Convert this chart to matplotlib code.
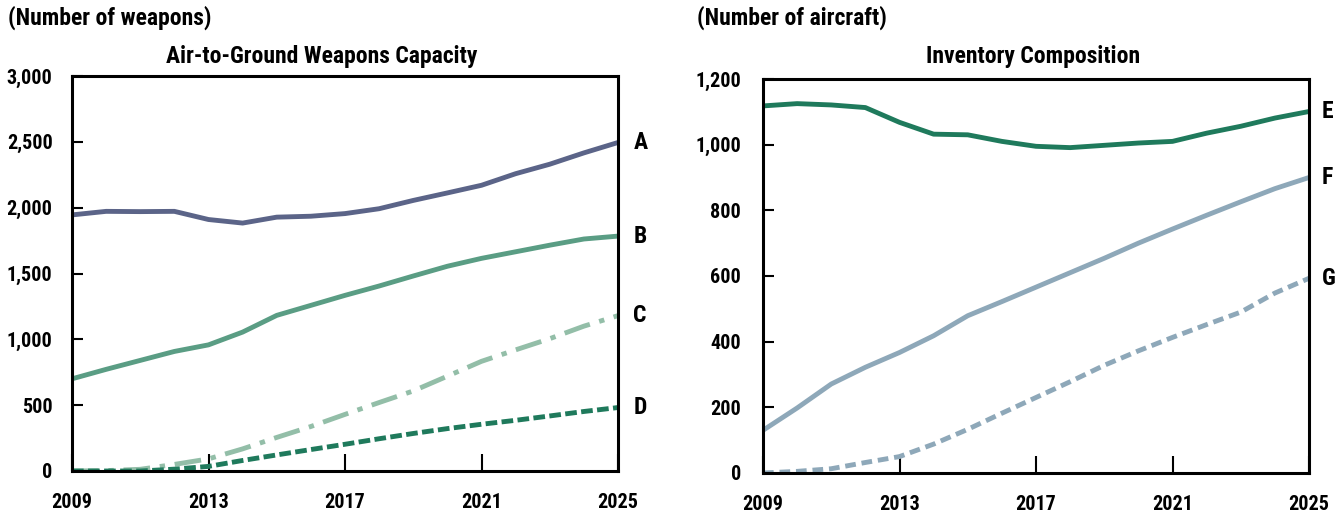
import matplotlib
matplotlib.use("Agg")
import matplotlib.pyplot as plt
from matplotlib import font_manager
from matplotlib.font_manager import FontProperties

years = list(range(2009, 2026))

# left panel: air-to-ground weapons capacity
weap_a = [1945, 1972, 1970, 1972, 1910, 1883, 1928, 1935, 1955, 1992, 2055, 2112, 2170, 2258, 2330, 2416, 2495]
weap_b = [700, 772, 840, 908, 958, 1055, 1182, 1258, 1334, 1405, 1481, 1555, 1615, 1665, 1715, 1762, 1784]
weap_c = [0, 3, 13, 50, 92, 168, 255, 338, 430, 520, 608, 720, 833, 920, 1005, 1100, 1180]
weap_d = [0, 0, 0, 14, 35, 80, 122, 163, 203, 245, 285, 322, 355, 385, 418, 452, 482]

# right panel: inventory composition
inv_e = [1118, 1125, 1121, 1113, 1068, 1032, 1030, 1010, 995, 991, 998, 1005, 1010, 1035, 1056, 1081, 1101]
inv_f = [130, 198, 271, 322, 367, 418, 479, 522, 566, 610, 654, 700, 743, 785, 826, 866, 900]
inv_g = [0, 5, 13, 32, 50, 88, 133, 182, 230, 278, 328, 372, 413, 452, 490, 548, 593]

left_labels = ["A", "B", "C", "D"]
right_labels = ["E", "F", "G"]
x_ticks = [2009, 2013, 2017, 2021, 2025]

# look for a narrow bold face; fall back to DejaVu Sans bold
cond = None
for f in font_manager.fontManager.ttflist:
    fn = f.fname.lower()
    if ("narrow" in fn or "condensed" in fn) and "bold" in fn and "oblique" not in fn and "italic" not in fn:
        cond = f.fname
        if "liberation" in fn:
            break


def fp(size):
    if cond:
        return FontProperties(fname=cond, size=size)
    return FontProperties(family="DejaVu Sans", weight="bold", size=size)


W, H = 1342, 519
fig = plt.figure(figsize=(W / 100, H / 100), dpi=100)


def make_ax(x0, x1, y0, y1):
    return fig.add_axes([x0 / W, 1 - y1 / H, (x1 - x0) / W, (y1 - y0) / H])


def style(ax, ymax, ystep, ypad):
    ax.set_xlim(2009, 2025)
    ax.set_ylim(0, ymax)
    ax.set_xticks(x_ticks)
    ax.set_xticklabels([str(y) for y in x_ticks])
    ax.set_yticks(range(0, ymax + 1, ystep))
    ax.set_yticklabels([f"{v:,}" for v in range(0, ymax + 1, ystep)])
    for s in ax.spines.values():
        s.set_linewidth(2.2)
        s.set_color("black")
        s.set_zorder(5)
    ax.tick_params(axis="y", direction="in", length=8, width=1.5, pad=ypad)
    ax.tick_params(axis="x", direction="in", length=12, width=1.5, pad=16)
    for lab in ax.get_xticklabels() + ax.get_yticklabels():
        lab.set_fontproperties(fp(14.5))


LW = 3.5

ax1 = make_ax(72, 618, 76, 471)
ax1.plot(years, weap_a, color="#5b6488", lw=LW, zorder=3)
ax1.plot(years, weap_b, color="#5a9d84", lw=LW, zorder=3)
ax1.plot(years, weap_c, color="#93bea8", lw=LW, dashes=(5.5, 2.0, 1.1, 2.0),
         dash_capstyle="butt", zorder=3)
ax1.plot(years, weap_d, color="#1f7a5c", lw=LW, dashes=(2.4, 0.9),
         dash_capstyle="butt", zorder=4)
style(ax1, 3000, 500, 14)
for lab, ser in zip(left_labels, [weap_a, weap_b, weap_c, weap_d]):
    ax1.annotate(lab, (2025, ser[-1]), xytext=(11, 0), textcoords="offset points",
                 va="center", ha="left", fontproperties=fp(17),
                 annotation_clip=False)

ax2 = make_ax(763, 1309, 79, 473)
ax2.plot(years, inv_e, color="#1f7a5c", lw=LW, zorder=3)
ax2.plot(years, inv_f, color="#8ea8b9", lw=LW, zorder=3)
ax2.plot(years, inv_g, color="#8ea8b9", lw=LW, dashes=(2.2, 1.2),
         dash_capstyle="butt", zorder=3)
style(ax2, 1200, 200, 16)
for lab, ser in zip(right_labels, [inv_e, inv_f, inv_g]):
    ax2.annotate(lab, (2025, ser[-1]), xytext=(9, 0), textcoords="offset points",
                 va="center", ha="left", fontproperties=fp(17),
                 annotation_clip=False)

fig.text(8 / W, 1 - 18 / H, "(Number of weapons)", fontproperties=fp(17),
         va="center", ha="left")
fig.text(697 / W, 1 - 18 / H, "(Number of aircraft)", fontproperties=fp(17),
         va="center", ha="left")
fig.text(322 / W, 1 - 57 / H, "Air-to-Ground Weapons Capacity", fontproperties=fp(17),
         va="center", ha="center")
fig.text(1033 / W, 1 - 57 / H, "Inventory Composition", fontproperties=fp(17),
         va="center", ha="center")

fig.savefig("out.png", dpi=100)
